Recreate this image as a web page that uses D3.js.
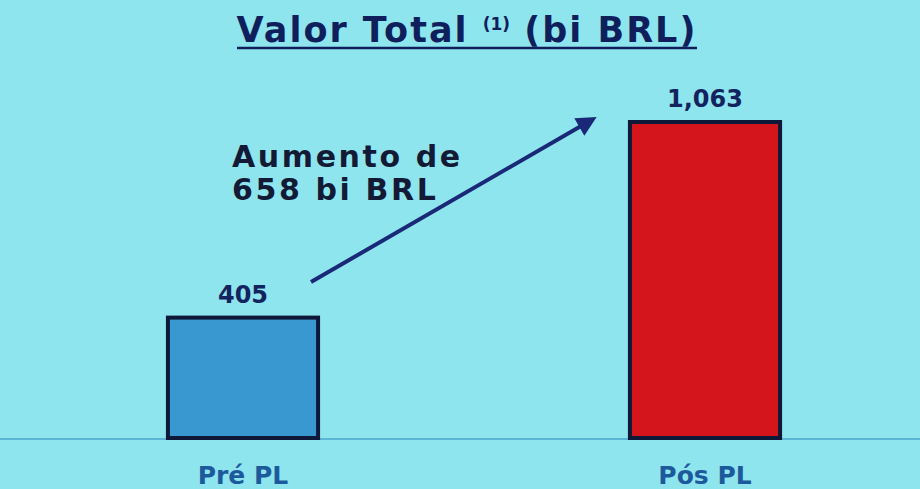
<!DOCTYPE html>
<html>
<head>
<meta charset="utf-8">
<script src="https://cdn.jsdelivr.net/npm/d3@7"></script>
<style>
  body { margin: 0; background: #8fe5ee; }
  svg { display: block; font-family: "DejaVu Sans", "Open Sans", sans-serif; }
</style>
</head>
<body>
<script>
// chart values
var categories = ["Pré PL", "Pós PL"];
var values = [405, 1063];
var valueLabels = ["405", "1,063"];
var barColors = ["#3a98d0", "#d4161c"];
var noteLines = ["Aumento de", "658 bi BRL"];

var width = 920, height = 489;
var baseY = 438;

var svg = d3.select("body").append("svg")
  .attr("width", width)
  .attr("height", height);

svg.append("rect")
  .attr("width", width)
  .attr("height", height)
  .attr("fill", "#8fe5ee");

var x = d3.scaleBand()
  .domain(categories)
  .range([12, 936])
  .paddingInner(0.675)
  .paddingOuter(0.3375);

var y = d3.scaleLinear()
  .domain([0, 1063])
  .range([baseY, 122]);

// title, underlined
var title = svg.append("text")
  .attr("x", 467)
  .attr("y", 42)
  .attr("text-anchor", "middle")
  .style("font-size", "35px")
  .style("font-weight", "bold")
  .style("letter-spacing", "2px")
  .style("fill", "#0f1f5c");
title.append("tspan").text("Valor Total ");
title.append("tspan").attr("dy", -12).style("font-size", "17px").style("letter-spacing", "0px").text("(1)");
title.append("tspan").attr("dy", 12).text(" (bi BRL)");
svg.append("line")
  .attr("x1", 237).attr("x2", 697)
  .attr("y1", 48).attr("y2", 48)
  .style("stroke", "#0f1f5c")
  .style("stroke-width", 2.5);

// baseline
svg.append("line")
  .attr("x1", 0).attr("x2", width)
  .attr("y1", baseY + 1).attr("y2", baseY + 1)
  .style("stroke", "#5bb6d6")
  .style("stroke-width", 2);

// bars
svg.selectAll("rect.bar")
  .data(values)
  .enter().append("rect")
  .attr("class", "bar")
  .attr("x", function(d, i) { return x(categories[i]); })
  .attr("y", function(d) { return y(d); })
  .attr("width", x.bandwidth())
  .attr("height", function(d) { return baseY - y(d); })
  .attr("fill", function(d, i) { return barColors[i]; })
  .style("stroke", "#0e1838")
  .style("stroke-width", 4);

// value labels
svg.selectAll("text.val")
  .data(values)
  .enter().append("text")
  .attr("class", "val")
  .attr("x", function(d, i) { return x(categories[i]) + x.bandwidth() / 2; })
  .attr("y", function(d) { return y(d) - 15; })
  .attr("text-anchor", "middle")
  .style("font-size", "24px")
  .style("font-weight", "bold")
  .style("fill", "#13235e")
  .text(function(d, i) { return valueLabels[i]; });

// category labels
svg.selectAll("text.cat")
  .data(categories)
  .enter().append("text")
  .attr("class", "cat")
  .attr("x", function(d) { return x(d) + x.bandwidth() / 2; })
  .attr("y", 484)
  .attr("text-anchor", "middle")
  .style("font-size", "25px")
  .style("font-weight", "bold")
  .style("fill", "#1d5a9c")
  .text(function(d) { return d; });

// arrow
svg.append("defs").append("marker")
  .attr("id", "head")
  .attr("viewBox", "0 0 10 10")
  .attr("refX", 5).attr("refY", 5)
  .attr("markerWidth", 5.5).attr("markerHeight", 5)
  .attr("orient", "auto")
  .append("path")
  .attr("d", "M0,0 L10,5 L0,10 z")
  .attr("fill", "#1a2878");

svg.append("line")
  .attr("x1", 311).attr("y1", 282)
  .attr("x2", 588).attr("y2", 122)
  .style("stroke", "#1a2878")
  .style("stroke-width", 4)
  .attr("marker-end", "url(#head)");

// annotation
svg.selectAll("text.note")
  .data(noteLines)
  .enter().append("text")
  .attr("class", "note")
  .attr("x", 232)
  .attr("y", function(d, i) { return 167 + i * 33; })
  .style("font-size", "30px")
  .style("font-weight", "bold")
  .style("letter-spacing", "2.6px")
  .style("fill", "#121a35")
  .text(function(d) { return d; });
</script>
</body>
</html>
